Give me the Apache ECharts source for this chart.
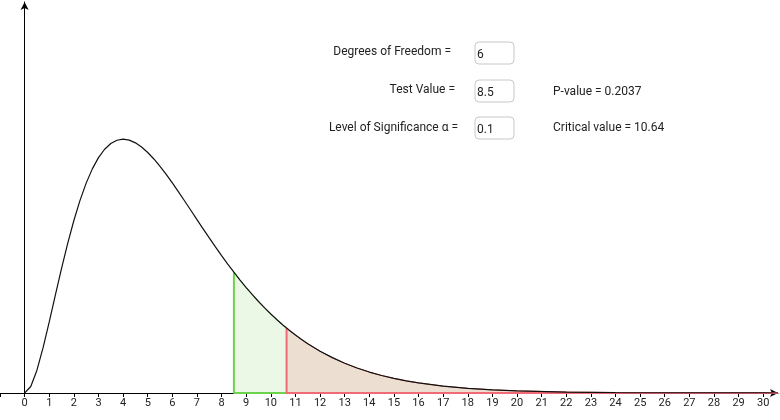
<!DOCTYPE html>
<html>
<head>
<meta charset="utf-8">
<script src="https://cdn.jsdelivr.net/npm/echarts@6/dist/echarts.min.js"></script>
<style>
  html, body { margin: 0; padding: 0; background: #fff; }
  #container { width: 780px; height: 420px; }
</style>
</head>
<body>
<div id="container"></div>
<script>
// chi-square density, 6 degrees of freedom
let curveX = [0, 0.25, 0.5, 0.75, 1, 1.25, 1.5, 1.75, 2, 2.25, 2.5, 2.75, 3, 3.25, 3.5, 3.75,
  4, 4.25, 4.5, 4.75, 5, 5.25, 5.5, 5.75, 6, 6.25, 6.5, 6.75, 7, 7.25, 7.5, 7.75, 8, 8.25,
  8.5, 8.75, 9, 9.25, 9.5, 9.75, 10, 10.25, 10.5, 10.64, 10.75, 11, 11.25, 11.5, 11.75, 12,
  12.5, 13, 13.5, 14, 14.5, 15, 15.5, 16, 17, 18, 19, 20, 22, 24, 26, 28, 30, 30.6];
let curveY = [0, 0.00345, 0.01217, 0.02416, 0.03791, 0.05227, 0.06643, 0.07979, 0.09197,
  0.10272, 0.11192, 0.11951, 0.12551, 0.12999, 0.13304, 0.13478, 0.13534, 0.13483, 0.13339,
  0.13116, 0.12826, 0.12479, 0.12086, 0.11658, 0.11202, 0.10727, 0.10239, 0.09744, 0.09248,
  0.08755, 0.08268, 0.07791, 0.07326, 0.06876, 0.06441, 0.06024, 0.05624, 0.05243, 0.0488,
  0.04536, 0.04211, 0.03905, 0.03616, 0.03462, 0.03345, 0.03091, 0.02853, 0.02631, 0.02424,
  0.02231, 0.01885, 0.01588, 0.01334, 0.01117, 0.00933, 0.00778, 0.00647, 0.00537, 0.00368,
  0.0025, 0.00169, 0.00114, 0.00051, 0.00022, 0.0001, 0.00004, 0.00002, 0.00001];
let tickLabels = [0, 1, 2, 3, 4, 5, 6, 7, 8, 9, 10, 11, 12, 13, 14, 15, 16, 17, 18, 19, 20,
  21, 22, 23, 24, 25, 26, 27, 28, 29, 30];
let tickValues = [-1].concat(tickLabels);

let degreesOfFreedom = "6";
let testValue = 8.5;
let alphaText = "0.1";
let pValueText = "0.2037";
let criticalValue = 10.64;

let curve = curveX.map((x, i) => [x, curveY[i]]);
let valueAt = (x) => curveY[curveX.indexOf(x)];
let greenPart = curve.filter((p) => p[0] >= testValue && p[0] <= criticalValue);
let redPart = curve.filter((p) => p[0] >= criticalValue);
let lastX = curveX[curveX.length - 1];

let font = "Roboto";
let textColor = "#222";

function inputBox(y, value) {
  return [
    {
      type: "rect",
      shape: { x: 475, y: y, width: 39, height: 22, r: 4 },
      style: { fill: "#fff", stroke: "#c8c8c8", lineWidth: 1 },
    },
    {
      type: "text",
      x: 477,
      y: y + 13,
      style: { text: value, font: "12px " + font, fill: textColor, textVerticalAlign: "middle" },
    },
  ];
}

function label(x, y, text, align) {
  return {
    type: "text",
    x: x,
    y: y,
    style: { text: text, font: "12px " + font, fill: textColor, textAlign: align, textVerticalAlign: "middle" },
  };
}

let dom = document.getElementById("container");
let myChart = echarts.init(dom, null, { renderer: "canvas" });

let option = {
  animation: false,
  grid: { left: 0, right: 2, top: 2, bottom: 27 },
  xAxis: {
    type: "value",
    min: -1,
    max: 30.6,
    interval: 1,
    axisLine: {
      lineStyle: { color: "#000", width: 1 },
      symbol: ["none", "arrow"],
      symbolSize: [6, 8],
    },
    axisTick: { show: true, length: 4, customValues: tickValues, lineStyle: { color: "#000" } },
    axisLabel: {
      customValues: tickLabels,
      margin: 5,
      fontFamily: font,
      fontSize: 11,
      color: textColor,
    },
    splitLine: { show: false },
  },
  yAxis: {
    type: "value",
    min: 0,
    max: 0.2085,
    axisLine: {
      show: true,
      onZero: true,
      lineStyle: { color: "#000", width: 1 },
      symbol: ["none", "arrow"],
      symbolSize: [6, 8],
    },
    axisTick: { show: false },
    axisLabel: { show: false },
    splitLine: { show: false },
  },
  series: [
    {
      type: "line",
      data: greenPart,
      showSymbol: false,
      lineStyle: { color: "#6cd44c", width: 1 },
      areaStyle: { color: "#eaf8e5", opacity: 1 },
      z: 2,
    },
    {
      type: "line",
      data: redPart,
      showSymbol: false,
      lineStyle: { color: "#d05050", width: 1 },
      areaStyle: { color: "#ecdfd2", opacity: 1 },
      z: 2,
    },
    {
      type: "line",
      data: [[testValue, valueAt(testValue)], [testValue, 0], [criticalValue, 0]],
      showSymbol: false,
      lineStyle: { color: "#6cd44c", width: 2 },
      z: 3,
    },
    {
      type: "line",
      data: [[criticalValue, valueAt(criticalValue)], [criticalValue, 0], [lastX, 0]],
      showSymbol: false,
      lineStyle: { color: "#f06a78", width: 2 },
      z: 3,
    },
    {
      type: "line",
      data: curve,
      showSymbol: false,
      lineStyle: { color: "#111", width: 1.2 },
      z: 4,
    },
  ],
  graphic: [
    label(451, 52, "Degrees of Freedom =", "right"),
    label(455, 90, "Test Value =", "right"),
    label(458, 128, "Level of Significance \u03b1 =", "right"),
    ...inputBox(42, degreesOfFreedom),
    ...inputBox(80, String(testValue)),
    ...inputBox(117, alphaText),
    label(553, 92, "P-value = " + pValueText, "left"),
    label(553, 128, "Critical value = " + criticalValue, "left"),
  ],
};

if (option && typeof option === "object") {
  myChart.setOption(option);
}

window.addEventListener("resize", myChart.resize);
</script>
</body>
</html>
